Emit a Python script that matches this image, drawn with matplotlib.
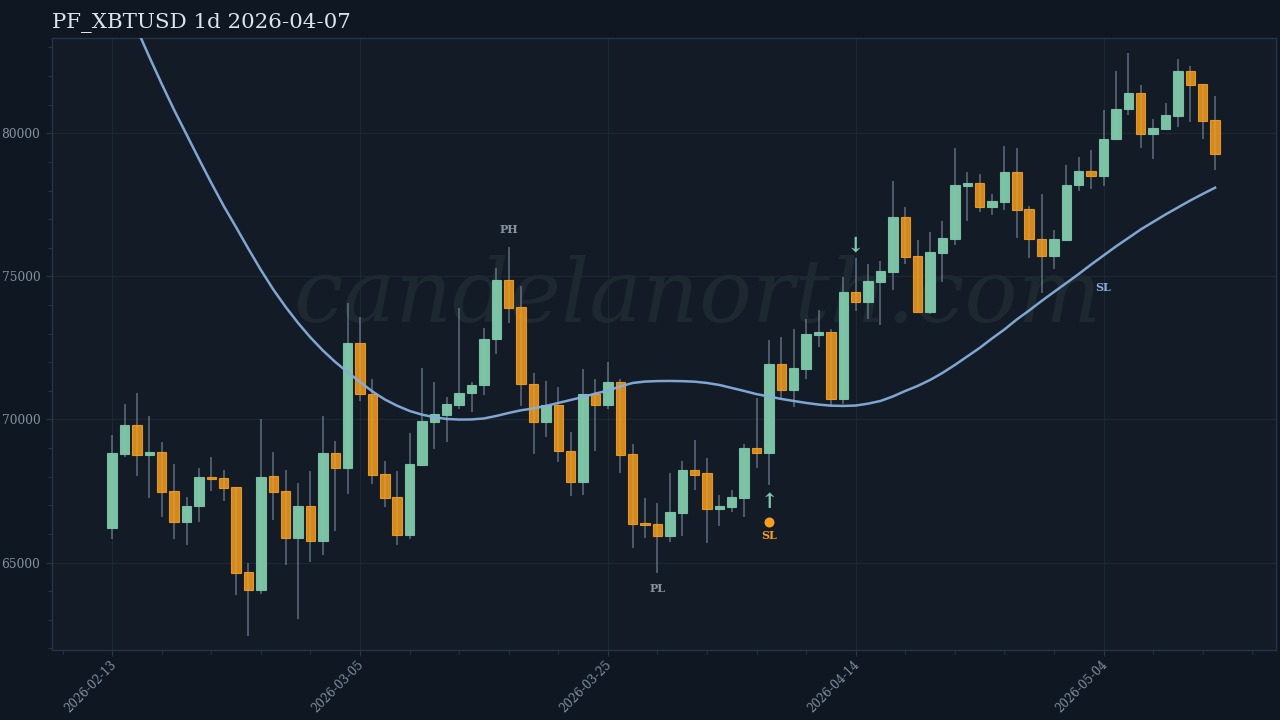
import matplotlib
matplotlib.use("Agg")
import matplotlib.pyplot as plt
import matplotlib.dates as mdates
from matplotlib.colors import to_rgba
from matplotlib.transforms import ScaledTranslation
import pandas as pd

opens = [66220,68795,69808,68770,68875,67491,66429,66967,68001,67966,67631,64661,64042,68015,67491,65860,66988,65765,68829,68305,
         72683,70891,68095,67281,65954,68399,69923,70157,70496,70915,71195,72802,74884,73920,71251,69912,70496,68910,67826,70891,
         70517,71310,68795,66383,66338,65940,66722,68235,68120,66873,66942,67267,69004,68829,71928,71041,71775,72942,73067,70726,
         74444,74116,74793,75143,77085,75702,73756,75828,76306,78158,78252,77424,77610,78647,77344,76317,75723,76271,78183,78672,
         78518,79790,80849,81408,79975,80160,80614,82176,81712,80464]
closes = [68819,69808,68770,68875,67457,66429,66988,68001,67931,67596,64647,64042,68001,67467,65860,66988,65765,68829,68305,72683,
          70880,68071,67267,65954,68434,69947,70181,70531,70936,71216,72823,74884,73906,71240,69912,70496,68889,67826,70891,70517,
          71310,68770,66348,66313,65940,66757,68225,68071,66883,66977,67292,69004,68829,71928,71041,71789,72976,73067,70726,74444,
          74116,74828,75178,77085,75688,73756,75842,76341,78183,78263,77424,77624,78647,77320,76296,75723,76296,78204,78672,78518,
          79811,80859,81408,79975,80174,80628,82176,81687,80440,79266]
highs = [69459,70542,70937,70122,69214,68445,67292,68295,68679,68235,67652,64996,70007,68854,68235,67770,68200,70111,69248,74060,
         73571,71415,68560,68211,69517,71789,71320,70775,73885,71310,73186,75283,76016,74675,71614,71355,71146,69552,71775,71404,
         71998,71415,69144,67257,67072,68120,68550,69273,68644,67372,67536,69133,70761,72777,72872,73151,73501,73826,73151,74989,
         75632,75433,75538,78333,77424,76261,76551,76925,79475,78647,78567,77889,79545,79486,77449,77879,76621,78892,79171,79416,
         80814,82176,82805,81677,80489,81048,82596,82351,81722,81292]
lows = [65825,68690,68026,67257,66593,65825,65605,66418,67512,67163,63868,62446,63913,66499,64916,63019,65031,65255,66114,67397,
        70646,67746,66942,65625,65835,68375,68969,69203,70367,70272,70856,72278,73382,70482,68794,69388,68525,67337,67351,68910,
        70377,68120,65520,65870,64647,65730,65940,67526,65695,66279,66768,66593,68315,67711,70740,70447,71415,72522,70482,70552,
        73801,73522,73291,74524,75433,73738,73686,74804,76107,76946,77250,77134,77320,76352,75632,74430,75258,76254,77983,78043,
        78169,79755,80649,79475,79112,80115,80220,80405,79790,78717]

# trend line starts a bit above the top of the frame
trend = [83644,82666,81723,80814,79958,79102,78263,77460,76716,75957,75224,74543,73931,73372,72865,72411,72009,71650,71310,70978,
         70699,70479,70297,70168,70077,70017,69996,70000,70035,70122,70227,70321,70384,70472,70577,70681,70786,70905,71006,71153,
         71275,71324,71341,71345,71338,71320,71275,71205,71100,70995,70884,70803,70716,70646,70577,70520,70482,70472,70486,70552,
         70646,70804,70995,71171,71380,71625,71904,72201,72498,72830,73144,73494,73808,74140,74455,74769,75084,75415,75730,76045,
         76341,76639,76901,77163,77407,77652,77879,78099]
trend_start = 2

BG = "#0f1722"
PANEL = "#131b26"
GREEN = "#7fc8a9"
ORANGE = "#f59e1f"
BLUE = "#86aedc"
GRID = "#1e2b35"
SPINE = "#263443"
WICK = "#8fa3b5"
TICKC = "#8492a3"

dates = pd.date_range("2026-02-13", periods=len(opens), freq="D")
x = mdates.date2num(dates)
up = [c >= o for o, c in zip(opens, closes)]

plt.rcParams["font.family"] = ["DejaVu Serif"]

fig = plt.figure(figsize=(12.8, 7.2), dpi=100, facecolor=BG)
ax = fig.add_axes([52.2 / 1280, 70 / 720, 1223.6 / 1280, 612 / 720], facecolor=PANEL)

ax.text(0.5276, 0.5367, "candelanorth.com", transform=ax.transAxes, ha="center", va="baseline",
        fontsize=63.6, style="italic", color="#1d2831", zorder=1)

ax.vlines(x, lows, highs, color=WICK, lw=1.1, alpha=0.6, zorder=2)
for i in range(len(x)):
    col = GREEN if up[i] else ORANGE
    face = to_rgba(col, 0.97 if up[i] else 0.85)
    bot = min(opens[i], closes[i])
    h = abs(closes[i] - opens[i])
    ax.bar(x[i], h, bottom=bot, width=0.76, color=face, edgecolor=to_rgba(col, 0.9), linewidth=0.8, zorder=3)

ax.plot(x[trend_start:], trend, color=BLUE, lw=1.8, alpha=0.95, zorder=4)

ax.text(x[32], 76621, "PH", color="#8492a3", fontsize=8, fontweight="bold", ha="center", va="center", zorder=5)
ax.text(x[44], 64078, "PL", color="#8492a3", fontsize=8, fontweight="bold", ha="center", va="center", zorder=5)
ax.text(x[53], 65930, "SL", color=ORANGE, fontsize=8, fontweight="bold", ha="center", va="center", zorder=5)
ax.text(x[80], 74595, "SL", color=BLUE, fontsize=8, fontweight="bold", ha="center", va="center", zorder=5)
ax.scatter([x[53]], [66400], s=52, color=ORANGE, linewidths=0, zorder=5)
ax.text(x[53], 67125, "↑", color=GREEN, fontsize=15, fontweight="bold", ha="center", va="center", zorder=5)
ax.text(x[60], 76060, "↓", color=GREEN, fontsize=15, fontweight="bold", ha="center", va="center", zorder=5)

ax.set_xlim(x[0] - 4.84, x[0] + 93.9)
ax.set_ylim(61943, 83330)

major_x = x[::20]
minor_x = [x[0] - 4 + 4 * k for k in range(25)]
ax.set_xticks(major_x)
ax.set_xticklabels([d.strftime("%Y-%m-%d") for d in dates[::20]], rotation=45, ha="right",
                   rotation_mode="anchor", fontsize=8.5, color=TICKC)
ax.set_xticks([m for m in minor_x if m not in major_x], minor=True)
ax.set_yticks([65000, 70000, 75000, 80000])
ax.set_yticks([v for v in range(62000, 84000, 1000) if v % 5000 != 0], minor=True)
ax.tick_params(axis="y", labelsize=8.8, labelcolor=TICKC)
ax.tick_params(which="major", length=4, width=0.8, color=SPINE)
ax.tick_params(which="minor", length=3, width=0.7, color=SPINE)
ax.tick_params(axis="x", which="major", pad=2)
ax.tick_params(axis="y", which="major", pad=4.5)
nudge = ScaledTranslation(-2.5 / 100, 0, fig.dpi_scale_trans)
for lab in ax.get_xticklabels():
    lab.set_transform(lab.get_transform() + nudge)
ax.grid(True, which="major", color=GRID, lw=0.8, alpha=0.9, zorder=0)
ax.set_axisbelow(True)
for s in ax.spines.values():
    s.set_color(SPINE)
    s.set_linewidth(1.0)

fig.text(52.5 / 1280, 1 - 28 / 720, "PF_XBTUSD 1d 2026-04-07", fontsize=15.4, color="#dbe3ec", ha="left", va="baseline")

fig.savefig("out.png", dpi=100, facecolor=BG)
